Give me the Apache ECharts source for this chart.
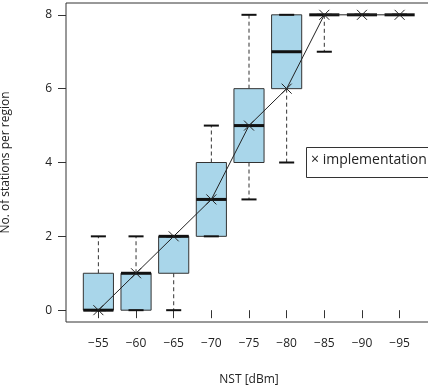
<!DOCTYPE html>
<html>
<head>
<meta charset="utf-8">
<script src="https://cdn.jsdelivr.net/npm/echarts@6/dist/echarts.min.js"></script>
<style>
  html, body { margin: 0; padding: 0; background: #fff; }
  #chart { width: 428px; height: 388px; }
</style>
</head>
<body>
<div id="chart"></div>
<script>
// x positions 1..9 -> NST thresholds
const nstLabels = ['−55', '−60', '−65', '−70', '−75', '−80', '−85', '−90', '−95']
// box plot stats per threshold
const whiskerLow = [0, 0, 0, 2, 3, 4, 7, 8, 8]
const boxQ1 = [0, 0, 1, 2, 4, 6, 8, 8, 8]
const boxMedian = [0, 1, 2, 3, 5, 7, 8, 8, 8]
const boxQ3 = [1, 1, 2, 4, 6, 8, 8, 8, 8]
const whiskerHigh = [2, 2, 2, 5, 8, 8, 8, 8, 8]
// implementation result
const implementation = [0, 1, 2, 3, 5, 6, 8, 8, 8]
const yTicks = [0, 2, 4, 6, 8]

const textColor = '#222'
const lineColor = '#333'

let boxData = nstLabels.map((n, i) => [i + 1, whiskerLow[i], boxQ1[i], boxMedian[i], boxQ3[i], whiskerHigh[i]])
let implData = implementation.map((v, i) => [i + 1, v])

function renderBox(params, api) {
  let x = api.value(0)
  let lo = api.value(1)
  let q1 = api.value(2)
  let med = api.value(3)
  let q3 = api.value(4)
  let hi = api.value(5)
  let unit = api.size([1, 0])[0]
  let halfBox = unit * 0.4
  let halfCap = unit * 0.2
  let c = (v) => api.coord([x, v])
  let children = []
  // dashed whiskers
  if (hi > q3) {
    children.push({
      type: 'line',
      shape: { x1: c(q3)[0], y1: c(q3)[1], x2: c(hi)[0], y2: c(hi)[1] },
      style: { stroke: lineColor, lineWidth: 1, lineDash: [4, 3] }
    })
  }
  if (lo < q1) {
    children.push({
      type: 'line',
      shape: { x1: c(q1)[0], y1: c(q1)[1], x2: c(lo)[0], y2: c(lo)[1] },
      style: { stroke: lineColor, lineWidth: 1, lineDash: [4, 3] }
    })
  }
  // box
  if (q3 > q1) {
    let top = c(q3)
    let bot = c(q1)
    children.push({
      type: 'rect',
      shape: { x: top[0] - halfBox, y: top[1], width: halfBox * 2, height: bot[1] - top[1] },
      style: { fill: '#a9d6ea', stroke: lineColor, lineWidth: 1 }
    })
  }
  // caps
  ;[lo, hi].forEach((v) => {
    let p = c(v)
    children.push({
      type: 'line',
      shape: { x1: p[0] - halfCap, y1: p[1], x2: p[0] + halfCap, y2: p[1] },
      style: { stroke: '#111', lineWidth: 2 }
    })
  })
  // median
  let m = c(med)
  children.push({
    type: 'line',
    shape: { x1: m[0] - halfBox, y1: m[1], x2: m[0] + halfBox, y2: m[1] },
    style: { stroke: '#111', lineWidth: 3 }
  })
  return { type: 'group', children: children }
}

let myChart = echarts.init(document.getElementById('chart'))
let option = {
  animation: false,
  textStyle: { fontFamily: 'Open Sans', color: textColor },
  grid: {
    left: 66,
    top: 3,
    width: 366,
    height: 319,
    outerBoundsMode: 'none',
    show: true,
    borderColor: lineColor,
    borderWidth: 1
  },
  xAxis: {
    type: 'value',
    min: 0.14,
    max: 9.86,
    name: 'NST [dBm]',
    nameLocation: 'middle',
    nameGap: 52,
    nameTextStyle: { fontSize: 12, color: textColor },
    axisLine: { show: false },
    splitLine: { show: false },
    axisTick: { show: true, length: 8, lineStyle: { color: lineColor }, customValues: [1, 2, 3, 4, 5, 6, 7, 8, 9] },
    axisLabel: {
      fontSize: 12,
      color: textColor,
      margin: 16,
      customValues: [1, 2, 3, 4, 5, 6, 7, 8, 9],
      formatter: (v) => nstLabels[Math.round(v) - 1]
    }
  },
  yAxis: {
    type: 'value',
    min: -0.32,
    max: 8.32,
    name: 'No. of stations per region',
    nameLocation: 'middle',
    nameGap: 54,
    nameRotate: 90,
    nameTextStyle: { fontSize: 12, color: textColor },
    axisLine: { show: false },
    splitLine: { show: false },
    axisTick: { show: true, length: 8, lineStyle: { color: lineColor }, customValues: yTicks },
    axisLabel: { fontSize: 12, color: textColor, margin: 14, customValues: yTicks }
  },
  graphic: [
    {
      type: 'rect',
      left: 306,
      top: 147,
      shape: { width: 130, height: 30 },
      style: { fill: '#fff', stroke: lineColor, lineWidth: 1 },
      z: 10
    },
    {
      type: 'text',
      left: 311,
      top: 153,
      style: { text: '× implementation', fontSize: 14, fontFamily: 'Open Sans', fill: textColor },
      z: 11
    }
  ],
  series: [
    {
      name: 'boxes',
      type: 'custom',
      renderItem: renderBox,
      encode: { x: 0, y: [1, 2, 3, 4, 5] },
      data: boxData,
      z: 2
    },
    {
      name: 'implementation',
      type: 'line',
      data: implData,
      symbol: 'path://M0,0L10,10M10,0L0,10',
      symbolSize: 10,
      itemStyle: { color: '#222', borderColor: '#222', borderWidth: 1 },
      lineStyle: { color: '#222', width: 1 },
      z: 3
    }
  ]
}
myChart.setOption(option)
</script>
</body>
</html>
